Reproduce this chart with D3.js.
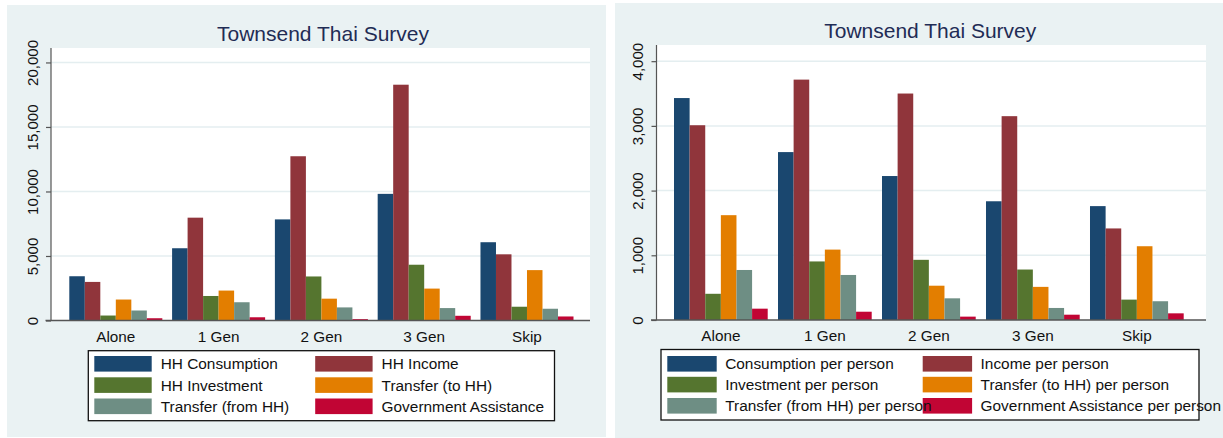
<!DOCTYPE html>
<html>
<head>
<meta charset="utf-8">
<script src="https://cdn.jsdelivr.net/npm/d3@7"></script>
<style>
  html, body { margin: 0; padding: 0; background: #ffffff; }
  svg { display: block; font-family: "Liberation Sans", Arial, sans-serif; }
</style>
</head>
<body>
<svg id="chart" width="1223" height="438"></svg>
<script>
// ---------- DATA ----------
const categories = ["Alone", "1 Gen", "2 Gen", "3 Gen", "Skip"];

// Left panel: household totals
const hhConsumption = [3430, 5600, 7836, 9815, 6067];
const hhIncome      = [2990, 7970, 12730, 18275, 5130];
const hhInvestment  = [385, 1900, 3413, 4322, 1067];
const hhTransferTo  = [1625, 2320, 1692, 2473, 3905];
const hhTransferFrom= [775, 1415, 1015, 963, 911];
const hhGovAssist   = [175, 250, 104, 365, 312];
const leftLabels = ["HH Consumption", "HH Income", "HH Investment", "Transfer (to HH)", "Transfer (from HH)", "Government Assistance"];
const leftTicks = [0, 5000, 10000, 15000, 20000];

// Right panel: per person
const ppConsumption = [3430, 2595, 2225, 1835, 1760];
const ppIncome      = [3010, 3715, 3500, 3150, 1415];
const ppInvestment  = [405, 905, 930, 780, 315];
const ppTransferTo  = [1620, 1088, 530, 512, 1140];
const ppTransferFrom= [773, 696, 335, 186, 290];
const ppGovAssist   = [175, 128, 52, 82, 103];
const rightLabels = ["Consumption per person", "Income per person", "Investment per person", "Transfer (to HH) per person", "Transfer (from HH) per person", "Government Assistance per person"];
const rightTicks = [0, 1000, 2000, 3000, 4000];

const titleText = "Townsend Thai Survey";
const seriesColors = ["#1A476F", "#90353B", "#55752F", "#E37E00", "#6E8E84", "#C10534"];

// ---------- DRAW ----------
const svg = d3.select("#chart");
const fmt = d3.format(",");

function drawPanel(cfg) {
  const g = svg.append("g");
  // panel background
  g.append("rect").attr("x", cfg.bg[0]).attr("y", cfg.bg[1])
    .attr("width", cfg.bg[2]).attr("height", cfg.bg[3]).attr("fill", "#EAF2F3");
  // plot region
  g.append("rect").attr("x", cfg.plot.left).attr("y", cfg.plot.top)
    .attr("width", cfg.plot.right - cfg.plot.left)
    .attr("height", cfg.plot.bottom - cfg.plot.top).attr("fill", "#ffffff");

  const y = d3.scaleLinear().domain([0, cfg.yMax]).range([cfg.plot.bottom, cfg.plot.top]);
  const x0 = d3.scaleBand().domain(categories).range(cfg.bandRange)
    .paddingInner(cfg.padInner).paddingOuter(0);
  const x1 = d3.scaleBand().domain(d3.range(cfg.series.length)).range([0, x0.bandwidth()]).padding(0);

  // gridlines
  g.selectAll("line.grid").data(cfg.ticks.filter(t => t > 0)).join("line")
    .attr("x1", cfg.plot.left).attr("x2", cfg.plot.right)
    .attr("y1", d => y(d)).attr("y2", d => y(d))
    .attr("stroke", "#E4EEF0").attr("stroke-width", 1.5);

  // bars
  const rows = categories.map((c, i) => ({ c, vals: cfg.series.map(s => s[i]) }));
  const grp = g.selectAll("g.cat").data(rows).join("g")
    .attr("transform", d => `translate(${x0(d.c)},0)`);
  grp.selectAll("rect").data(d => d.vals.map((v, k) => ({ v, k }))).join("rect")
    .attr("x", d => x1(d.k)).attr("width", x1.bandwidth())
    .attr("y", d => y(d.v)).attr("height", d => y(0) - y(d.v))
    .attr("fill", d => seriesColors[d.k]);

  // y axis
  const yAxis = d3.axisLeft(y).tickValues(cfg.ticks).tickSize(5).tickFormat(fmt);
  const ya = g.append("g").attr("transform", `translate(${cfg.plot.left},0)`).call(yAxis);
  ya.select(".domain").attr("stroke", "#555").attr("stroke-width", 1.2)
    .attr("d", `M0,${cfg.plot.top}V${cfg.plot.bottom}`);
  ya.selectAll(".tick line").attr("stroke", "#555").attr("stroke-width", 1.2);
  ya.selectAll(".tick text")
    .attr("x", null).attr("dy", null).attr("y", null)
    .attr("text-anchor", "middle")
    .attr("transform", `translate(-13.2,0) rotate(-90)`)
    .attr("fill", "#111").attr("font-size", 15)
    .attr("font-family", "Liberation Sans, Arial, sans-serif");

  // x axis line
  g.append("line").attr("x1", cfg.plot.left - 5.5).attr("x2", cfg.plot.right)
    .attr("y1", y(0)).attr("y2", y(0)).attr("stroke", "#555").attr("stroke-width", 1.3);

  // category labels
  g.selectAll("text.cat").data(categories).join("text")
    .attr("x", d => x0(d) + x0.bandwidth() / 2).attr("y", cfg.catY)
    .attr("text-anchor", "middle").attr("font-size", 15.3).attr("fill", "#111")
    .text(d => d);

  // title
  g.append("text").attr("x", (cfg.plot.left + cfg.plot.right) / 2 + cfg.titleDx).attr("y", cfg.titleY)
    .attr("text-anchor", "middle").attr("font-size", 21).attr("fill", "#1F2C55")
    .text(titleText);

  // legend
  const L = cfg.legend;
  g.append("rect").attr("x", L.x).attr("y", L.y).attr("width", L.w).attr("height", L.h)
    .attr("fill", "#ffffff").attr("stroke", "#111").attr("stroke-width", 1.3);
  const items = cfg.labels.map((t, k) => ({ t, k, col: k % 2, row: Math.floor(k / 2) }));
  g.selectAll("rect.sw").data(items).join("rect")
    .attr("x", d => L.colX[d.col]).attr("y", d => L.rowY[d.row])
    .attr("width", L.swW).attr("height", L.swH)
    .attr("fill", d => seriesColors[d.k]);
  g.selectAll("text.lg").data(items).join("text")
    .attr("x", d => L.colX[d.col] + L.swW + L.gap)
    .attr("y", d => L.rowY[d.row] + L.swH / 2 + 5.4)
    .attr("font-size", 15.4).attr("fill", "#111")
    .text(d => d.t);
}

drawPanel({
  bg: [7, 5, 599, 432],
  plot: { left: 51, right: 590, top: 48, bottom: 320.5 },
  yMax: 21120,
  ticks: leftTicks,
  bandRange: [69.3, 573.5],
  padInner: 0.095,
  series: [hhConsumption, hhIncome, hhInvestment, hhTransferTo, hhTransferFrom, hhGovAssist],
  labels: leftLabels,
  catY: 341.5,
  titleY: 40.7,
  titleDx: 2.5,
  legend: { x: 88.3, y: 350.7, w: 466.2, h: 70, colX: [94.3, 315.2], rowY: [356, 377.3, 398.5], swW: 57.4, swH: 15.6, gap: 9 }
});

drawPanel({
  bg: [615, 3, 608, 435],
  plot: { left: 656.5, right: 1206, top: 45, bottom: 320 },
  yMax: 4250,
  ticks: rightTicks,
  bandRange: [674, 1183.7],
  padInner: 0.099,
  series: [ppConsumption, ppIncome, ppInvestment, ppTransferTo, ppTransferFrom, ppGovAssist],
  labels: rightLabels,
  catY: 340.5,
  titleY: 37.5,
  titleDx: -1,
  legend: { x: 661, y: 349.5, w: 538, h: 70.5, colX: [667.3, 922.7], rowY: [356, 376.8, 398], swW: 49.4, swH: 15.6, gap: 8.5 }
});
</script>
</body>
</html>
